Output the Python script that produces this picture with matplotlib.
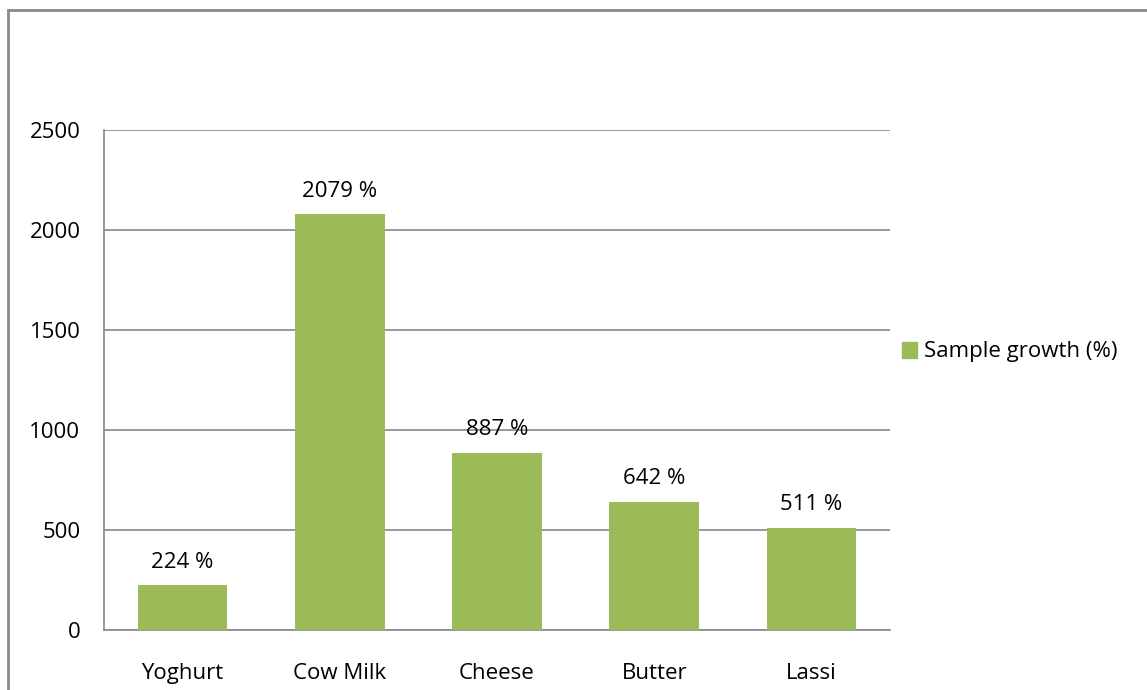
import matplotlib
matplotlib.use("Agg")
import matplotlib.pyplot as plt
from matplotlib.patches import Rectangle, Patch

categories = ["Yoghurt", "Cow Milk", "Cheese", "Butter", "Lassi"]
growth = [224, 2079, 887, 642, 511]
labels = ["224 %", "2079 %", "887 %", "642 %", "511 %"]
yticks = [0, 500, 1000, 1500, 2000, 2500]
series_name = "Sample growth (%)"

plt.rcParams['font.family'] = ['Open Sans', 'DejaVu Sans']
W, H = 1147, 690
fig = plt.figure(figsize=(W/100, H/100), dpi=100)
ax = fig.add_axes([104/W, 1-630/H, (890-104)/W, 500/H])

fs = 16
green = "#9BBB59"
grid = "#888888"
x = list(range(len(categories)))
ax.bar(x, growth, width=0.57, color=green, zorder=3)
ax.set_xlim(-0.5, len(categories)-0.5)
ax.set_ylim(0, 2500)
ax.set_yticks(yticks)
ax.set_xticks(x)
ax.set_xticklabels(categories)
ax.yaxis.grid(True, color=grid, linewidth=1.2, zorder=0)
ax.tick_params(axis='both', length=0, labelsize=fs, colors='black')
ax.tick_params(axis='y', pad=17)
ax.tick_params(axis='x', pad=24)
for s in ['top', 'right']:
    ax.spines[s].set_visible(False)
for s in ['left', 'bottom']:
    ax.spines[s].set_color(grid)
    ax.spines[s].set_linewidth(1.2)

for xi, v, lab in zip(x, growth, labels):
    ax.annotate(lab, (xi, v), xytext=(0, 9), textcoords='offset points',
                ha='center', va='bottom', fontsize=fs)

leg = fig.legend(handles=[Patch(color=green, label=series_name)],
                 loc='center left', bbox_to_anchor=(893/W, 1-352/H),
                 frameon=False, fontsize=fs, handlelength=0.7, handleheight=0.7,
                 handletextpad=0.3, borderaxespad=0)

fig.patches.append(Rectangle((8/W, -0.1), 1.2, 1-10/H+0.1, transform=fig.transFigure,
                             fill=False, edgecolor="#888888", linewidth=2))

fig.savefig("out.png", dpi=100)
